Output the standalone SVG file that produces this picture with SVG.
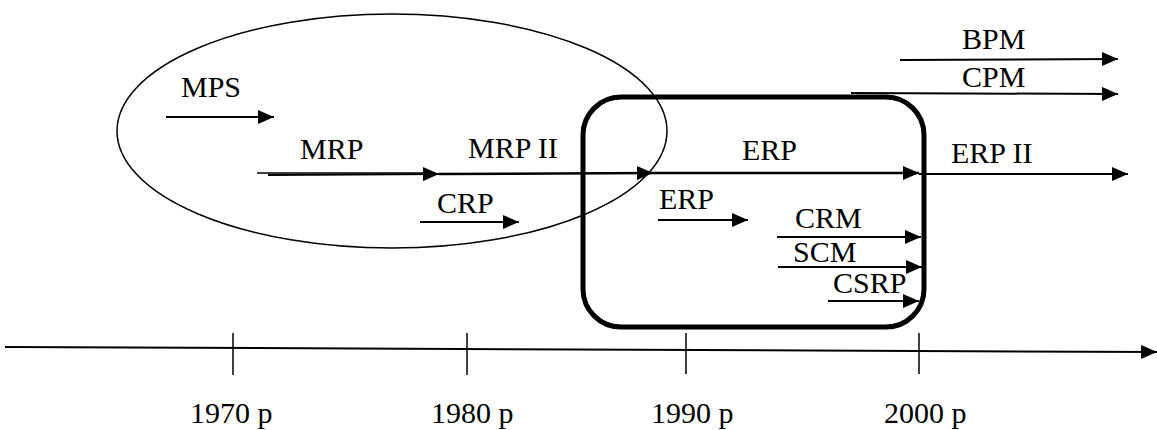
<svg xmlns="http://www.w3.org/2000/svg" width="1157" height="430" viewBox="0 0 1157 430" font-family="'Liberation Serif', serif" font-size="30">
<defs>
<marker id="ah" markerUnits="userSpaceOnUse" markerWidth="17" markerHeight="14" refX="16" refY="7" orient="auto">
<path d="M0,0 L16,7 L0,14 z" fill="#000"/>
</marker>
</defs>
<rect width="1157" height="430" fill="#fff"/>
<g id="era-mrp">
<ellipse cx="392" cy="131" rx="275" ry="117" fill="none" stroke="#000" stroke-width="1.5"/>
</g>
<g id="era-erp">
<rect x="583" y="97" width="341" height="230" rx="38" ry="38" fill="none" stroke="#000" stroke-width="5"/>
</g>
<g id="connectors" stroke="#000" stroke-width="2" fill="none" marker-end="url(#ah)">
<line x1="166" y1="117" x2="274" y2="117"/>
<line x1="257" y1="173" x2="430" y2="173" stroke-width="1.5" marker-end="none"/>
<line x1="268" y1="175" x2="439" y2="174"/>
<line x1="439" y1="174" x2="653" y2="173" stroke-width="2.5"/>
<line x1="653" y1="173" x2="919" y2="173" stroke-width="2.5"/>
<line x1="919" y1="174" x2="1128" y2="174"/>
<line x1="420" y1="222" x2="519" y2="222"/>
<line x1="658" y1="220" x2="748" y2="220"/>
<line x1="777" y1="237" x2="921" y2="237"/>
<line x1="778" y1="267" x2="922" y2="267"/>
<line x1="828" y1="301" x2="919" y2="301"/>
<line x1="900" y1="60" x2="1118" y2="59"/>
<line x1="851" y1="93" x2="1118" y2="94"/>
</g>
<g id="timeline" stroke="#000">
<line x1="5" y1="347" x2="1157" y2="352" stroke-width="2" marker-end="url(#ah)"/>
<line x1="233" y1="333" x2="233" y2="375" stroke-width="1.5"/>
<line x1="467" y1="333" x2="467" y2="375" stroke-width="1.5"/>
<line x1="686" y1="333" x2="686" y2="374" stroke-width="1.5"/>
<line x1="919" y1="333" x2="919" y2="374" stroke-width="1.5"/>
</g>
<text x="181" y="97" font-family="'Liberation Serif'" font-size="30">MPS</text>
<text x="300" y="159" font-family="'Liberation Serif'" font-size="30">MRP</text>
<text x="468" y="158" font-family="'Liberation Serif'" font-size="30">MRP II</text>
<text x="437" y="213" font-family="'Liberation Serif'" font-size="30">CRP</text>
<text x="742" y="160" font-family="'Liberation Serif'" font-size="30">ERP</text>
<text x="659" y="209" font-family="'Liberation Serif'" font-size="30">ERP</text>
<text x="951" y="163" font-family="'Liberation Serif'" font-size="30">ERP II</text>
<text x="962" y="49" font-family="'Liberation Serif'" font-size="30">BPM</text>
<text x="962" y="87" font-family="'Liberation Serif'" font-size="30">CPM</text>
<text x="795" y="228" font-family="'Liberation Serif'" font-size="30">CRM</text>
<text x="793" y="262" font-family="'Liberation Serif'" font-size="30">SCM</text>
<text x="833" y="293" font-family="'Liberation Serif'" font-size="30">CSRP</text>
<text x="190" y="423" font-family="'Liberation Serif'" font-size="30">1970 p</text>
<text x="431" y="423" font-family="'Liberation Serif'" font-size="30">1980 p</text>
<text x="651" y="423" font-family="'Liberation Serif'" font-size="30">1990 p</text>
<text x="884" y="423" font-family="'Liberation Serif'" font-size="30">2000 p</text>
</svg>
